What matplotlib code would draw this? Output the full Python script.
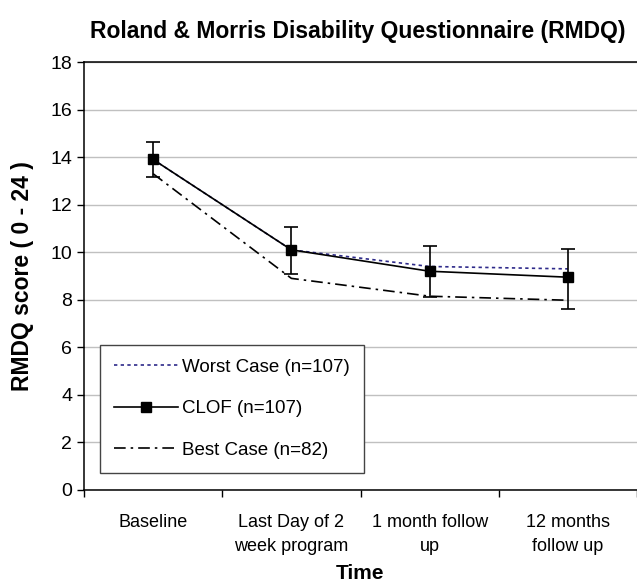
import matplotlib.pyplot as plt
from matplotlib.lines import Line2D
import numpy as np

plt.rcParams['font.family'] = ['Liberation Sans', 'DejaVu Sans']

categories = ['Baseline', 'Last Day of 2\nweek program', '1 month follow\nup', '12 months\nfollow up']
worst_case = [13.9, 10.1, 9.4, 9.3]
clof = [13.9, 10.1, 9.2, 8.95]
clof_upper = [14.63, 11.06, 10.25, 10.13]
clof_lower = [13.15, 9.1, 8.12, 7.63]
best_case = [13.3, 8.9, 8.15, 7.98]

x = np.arange(len(categories))
err = [np.array(clof) - np.array(clof_lower), np.array(clof_upper) - np.array(clof)]

fig = plt.figure(figsize=(6.37, 5.88), dpi=100)
ax = fig.add_axes([84 / 637, 1 - 490 / 588, 1 - 84 / 637, (490 - 62) / 588])

worst_style = dict(linestyle=(0, (2, 2)), color='#2e2a8a', linewidth=1.2)
best_style = dict(linestyle=(0, (7, 3, 1.5, 3)), color='black', linewidth=1.2)

ax.plot(x, worst_case, zorder=3, **worst_style)
ax.errorbar(x, clof, yerr=err, color='black', linewidth=1.2, marker='s', markersize=7,
            capsize=5, elinewidth=1.2, capthick=1.2, zorder=4)
ax.plot(x, best_case, zorder=3, **best_style)

ax.set_xlim(-0.5, len(categories) - 0.5)
ax.set_ylim(0, 18)
ax.set_yticks(range(0, 19, 2))
ax.yaxis.grid(True, color='#c0c0c0', linewidth=1)
ax.set_axisbelow(True)

ax.set_xticks(x)
ax.set_xticklabels(categories, fontsize=13, linespacing=1.6)
ax.set_xticks(np.arange(-0.5, len(categories)), minor=True)
ax.tick_params(axis='x', which='major', length=0, pad=17)
ax.tick_params(axis='x', which='minor', length=5, width=1, color='black')
ax.tick_params(axis='y', length=5, width=1, labelsize=14)

ax.spines['right'].set_visible(False)
for s in ['left', 'bottom', 'top']:
    ax.spines[s].set_linewidth(1.1)

ax.set_xlabel('Time', fontsize=15, fontweight='bold', labelpad=6)
ax.set_ylabel('RMDQ score ( 0 - 24 )', fontsize=16.5, fontweight='bold', labelpad=12)
fig.text(0.562, 0.946, 'Roland & Morris Disability Questionnaire (RMDQ)',
         ha='center', va='center', fontsize=16.5, fontweight='bold')

handles = [
    Line2D([], [], **worst_style),
    Line2D([], [], color='black', linewidth=1.2, marker='s', markersize=7),
    Line2D([], [], **best_style),
]
labels = ['Worst Case (n=107)', 'CLOF (n=107)', 'Best Case (n=82)']
leg = ax.legend(handles, labels, loc='lower left', bbox_to_anchor=(16 / 553, 17 / 428),
                fontsize=13.5, frameon=True, fancybox=False, edgecolor='#444444',
                framealpha=1, borderpad=0.75, labelspacing=1.3, handlelength=3.4,
                handletextpad=0.25, borderaxespad=0)
leg.get_frame().set_linewidth(1)

fig.savefig('out.png', dpi=100)
